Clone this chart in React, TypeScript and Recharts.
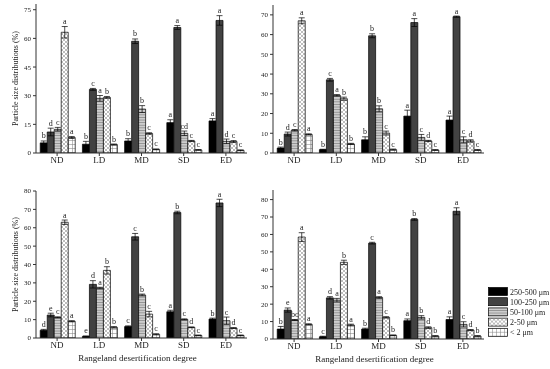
import React from 'react';
import { BarChart, Bar, XAxis, YAxis, ErrorBar, LabelList, Label, Legend } from 'recharts';

const FONT = '"Liberation Serif", "Times New Roman", serif';

const categories = ['ND', 'LD', 'MD', 'SD', 'ED'];
const seriesNames = ['250-500 μm', '100-250 μm', '50-100 μm', '2-50 μm', '< 2 μm'];

// 0-5 cm
const vals05 = [
  [5.3, 4.6, 6.3, 15.9, 16.8],
  [11.0, 33.3, 58.5, 65.7, 69.4],
  [12.4, 28.6, 23.0, 10.3, 6.1],
  [63.2, 29.1, 10.2, 6.3, 6.0],
  [8.1, 4.4, 1.9, 1.6, 1.4],
];
const errs05 = [
  [1.0, 1.5, 1.2, 1.5, 1.2],
  [2.0, 0.5, 1.2, 1.0, 2.5],
  [1.0, 1.5, 1.8, 1.2, 1.2],
  [3.0, 0.5, 0.4, 0.3, 0.5],
  [0.5, 0.3, 0.2, 0.2, 0.2],
];
const lets05 = [
  ['b', 'b', 'b', 'a', 'a'],
  ['d', 'c', 'b', 'a', 'a'],
  ['c', 'a', 'b', 'cd', 'd'],
  ['a', 'b', 'c', 'c', 'c'],
  ['a', 'b', 'c', 'c', 'c'],
];
const ticks05 = [0, 15, 30, 45, 60, 75];

// 5-10 cm
const vals510 = [
  [2.5, 1.7, 6.7, 18.7, 16.7],
  [9.6, 37.1, 59.4, 66.1, 69.1],
  [11.5, 29.2, 22.4, 7.9, 6.7],
  [67.0, 27.5, 10.1, 6.1, 6.1],
  [9.4, 4.6, 1.7, 1.5, 1.5],
];
const errs510 = [
  [0.5, 0.2, 1.5, 3.0, 2.0],
  [1.0, 0.7, 1.0, 2.0, 0.3],
  [0.4, 0.4, 1.5, 1.5, 1.5],
  [1.5, 0.8, 1.0, 0.3, 0.6],
  [0.3, 0.3, 0.3, 0.2, 0.2],
];
const lets510 = [
  ['b', 'b', 'b', 'a', 'a'],
  ['d', 'c', 'b', 'a', 'a'],
  ['c', 'a', 'b', 'c', 'c'],
  ['a', 'b', 'c', 'd', 'd'],
  ['a', 'b', 'c', 'c', 'c'],
];
const ticks510 = [0, 10, 20, 30, 40, 50, 60, 70];

// 10-20 cm
const vals1020 = [
  [4.2, 0.9, 6.2, 14.3, 10.3],
  [12.5, 29.2, 55.1, 68.3, 73.5],
  [11.2, 27.2, 23.4, 10.1, 9.4],
  [63.0, 36.8, 13.0, 5.8, 5.4],
  [9.1, 5.8, 2.0, 1.4, 1.4],
];
const errs1020 = [
  [0.5, 0.2, 0.4, 0.8, 0.5],
  [1.0, 2.0, 1.8, 0.7, 2.0],
  [0.3, 0.4, 0.5, 0.3, 2.0],
  [1.2, 2.0, 1.5, 0.2, 0.2],
  [0.3, 0.4, 0.3, 0.2, 0.2],
];
const lets1020 = [
  ['d', 'e', 'c', 'a', 'b'],
  ['e', 'd', 'c', 'b', 'a'],
  ['c', 'a', 'b', 'c', 'c'],
  ['a', 'b', 'c', 'd', 'd'],
  ['a', 'b', 'c', 'c', 'c'],
];
const ticks1020 = [0, 10, 20, 30, 40, 50, 60, 70, 80];

// 20-30 cm
const vals2030 = [
  [5.7, 1.3, 5.7, 10.5, 11.2],
  [16.6, 23.6, 55.0, 68.6, 73.3],
  [10.9, 22.3, 23.8, 12.4, 8.4],
  [58.5, 44.0, 12.4, 6.5, 5.1],
  [8.4, 8.0, 2.1, 1.7, 1.7],
];
const errs2030 = [
  [1.5, 0.3, 0.5, 1.0, 1.5],
  [1.2, 0.7, 0.5, 0.5, 2.0],
  [0.3, 1.0, 0.5, 1.0, 1.5],
  [2.5, 1.2, 0.4, 0.5, 0.3],
  [0.3, 0.5, 0.2, 0.2, 0.2],
];
const lets2030 = [
  ['b', 'c', 'b', 'a', 'a'],
  ['e', 'd', 'c', 'b', 'a'],
  ['bc', 'a', 'a', 'b', 'c'],
  ['a', 'b', 'c', 'd', 'd'],
  ['a', 'a', 'b', 'b', 'b'],
];
const ticks2030 = [0, 10, 20, 30, 40, 50, 60, 70, 80];

const makeLetter = (letters: string[], errs: number[]) => (p: any) => {
  const vb = p.viewBox || p;
  const idx = p.index ?? 0;
  const value = Number(p.value);
  const h = Math.abs(vb.height);
  const topY = Math.min(vb.y, vb.y + vb.height);
  const ppu = value ? h / value : 0;
  const ey = topY - (errs[idx] || 0) * ppu;
  return (
    <text
      x={vb.x + vb.width / 2}
      y={ey - 2.5}
      textAnchor="middle"
      fontSize={8}
      fontFamily={FONT}
      fill="#222"
      stroke="none"
    >
      {letters[idx]}
    </text>
  );
};

const legendContent = (props: any) => {
  const payload = [...(props.payload || [])].sort(
    (a: any, b: any) => seriesNames.indexOf(a.value) - seriesNames.indexOf(b.value)
  );
  return (
    <svg width={64} height={54} style={{ display: 'block', overflow: 'visible' }}>
      {payload.map((p: any, i: number) => (
        <g key={i} transform={`translate(0, ${i * 10.2})`}>
          <rect x={0.5} y={0.5} width={19} height={8} fill={p.color || (p.payload && p.payload.fill)} stroke="#000" strokeWidth={0.7} />
          <text x={22} y={7.5} fontSize={8} fontFamily={FONT} fill="#222" stroke="none">
            {p.value}
          </text>
        </g>
      ))}
    </svg>
  );
};

type PanelProps = {
  id: string;
  left: number;
  top: number;
  width: number;
  height: number;
  margin: { top: number; right: number; bottom: number; left: number };
  yWidth: number;
  xHeight: number;
  domain: [number, number];
  ticks: number[];
  title: string;
  vals: number[][];
  errs: number[][];
  lets: string[][];
  yTitle?: boolean;
  xTitle?: boolean;
  legend?: boolean;
};

function Panel(props: PanelProps) {
  const { id, left, top, width, height, margin, yWidth, xHeight, domain, ticks, title, vals, errs, lets, yTitle, xTitle, legend } = props;
  const data = categories.map((c, i) => {
    const row: any = { cat: c };
    vals.forEach((s, k) => {
      row['v' + k] = s[i];
      row['e' + k] = errs[k][i];
    });
    return row;
  });
  const fills = ['#000000', '#424242', `url(#${id}-h)`, `url(#${id}-x)`, `url(#${id}-g)`];
  return (
    <div style={{ position: 'absolute', left, top }}>
      <BarChart width={width} height={height} data={data} margin={margin} barCategoryGap="10%" barGap={0}>
        <defs>
          <pattern id={`${id}-h`} width="4" height="2.6" patternUnits="userSpaceOnUse">
            <rect width="4" height="2.6" fill="#cdcdcd" />
            <line x1="0" y1="0.4" x2="4" y2="0.4" stroke="#6a6a6a" strokeWidth="0.6" />
          </pattern>
          <pattern id={`${id}-x`} width="4" height="4" patternUnits="userSpaceOnUse">
            <rect width="4" height="4" fill="#ffffff" />
            <path d="M0,0 L4,4 M4,0 L0,4" stroke="#7a7a7a" strokeWidth="0.5" />
          </pattern>
          <pattern id={`${id}-g`} width="4" height="4" patternUnits="userSpaceOnUse">
            <rect width="4" height="4" fill="#ffffff" />
            <path d="M0,0.5 H4 M0.5,0 V4" stroke="#7a7a7a" strokeWidth="0.5" />
          </pattern>
        </defs>
        <XAxis
          dataKey="cat"
          height={xHeight}
          tickSize={3}
          tickMargin={1}
          interval={0}
          stroke="#333"
          tick={{ fontSize: 9, fill: '#222', fontFamily: FONT }}
        >
          {xTitle ? (
            <Label
              content={(p: any) => {
                const vb = p.viewBox;
                return (
                  <text x={vb.x + vb.width / 2 - 4} y={vb.y + 23} textAnchor="middle" fontSize={9} fontFamily={FONT} fill="#222" stroke="none">
                    Rangeland desertification degree
                  </text>
                );
              }}
            />
          ) : null}
        </XAxis>
        <XAxis xAxisId="top" dataKey="cat" orientation="top" height={0} tick={false} tickLine={false} stroke="#333">
          <Label
            content={(p: any) => {
              const vb = p.viewBox;
              return (
                <text x={vb.x + 46} y={vb.y + 21} fontSize={8.5} fontFamily={FONT} fill="#222" stroke="none">
                  {title}
                </text>
              );
            }}
          />
        </XAxis>
        <YAxis
          domain={domain}
          ticks={ticks}
          width={yWidth}
          tickSize={3}
          tickMargin={2}
          allowDataOverflow
          stroke="#333"
          tick={{ fontSize: 7, fill: '#222', fontFamily: FONT }}
        >
          {yTitle ? (
            <Label
              content={(p: any) => {
                const vb = p.viewBox;
                const cx = 15;
                const cy = vb.y + vb.height / 2;
                return (
                  <text x={cx} y={cy} transform={`rotate(-90 ${cx} ${cy})`} textAnchor="middle" dominantBaseline="central" fontSize={8} fontFamily={FONT} fill="#222" stroke="none">
                    Particle size distributions (%)
                  </text>
                );
              }}
            />
          ) : null}
        </YAxis>
        <YAxis yAxisId="right" orientation="right" width={0} tick={false} tickLine={false} stroke="#333" domain={[0, 1]} />
        {seriesNames.map((n, k) => (
          <Bar key={k} dataKey={'v' + k} name={n} fill={fills[k]} stroke="#000" strokeWidth={0.7} isAnimationActive={false}>
            <ErrorBar dataKey={'e' + k} width={3} stroke="#000" strokeWidth={0.7} />
            <LabelList dataKey={'v' + k} content={makeLetter(lets[k], errs[k])} />
          </Bar>
        ))}
        {legend ? (
          <Legend
            layout="vertical"
            align="center"
            verticalAlign="middle"
            content={legendContent}
            wrapperStyle={{ left: 238, top: 102, width: 64, height: 54 }}
          />
        ) : null}
      </BarChart>
    </div>
  );
}

export default function App() {
  return (
    <div style={{ position: 'absolute', left: 0, top: 0, width: 550, height: 369, background: '#fff', overflow: 'hidden', filter: 'grayscale(1)' }}>
      <Panel
        id="p05" left={0} top={0} width={270} height={185}
        margin={{ top: 4, right: 23, bottom: 0, left: 0 }}
        yWidth={36} xHeight={32} domain={[0, 78]} ticks={ticks05}
        title="0-5 cm" vals={vals05} errs={errs05} lets={lets05} yTitle
      />
      <Panel
        id="p510" left={250} top={0} width={300} height={185}
        margin={{ top: 5, right: 66, bottom: 0, left: 0 }}
        yWidth={23} xHeight={32} domain={[0, 75]} ticks={ticks510}
        title="5-10 cm" vals={vals510} errs={errs510} lets={lets510}
      />
      <Panel
        id="p1020" left={0} top={185} width={270} height={184}
        margin={{ top: 6, right: 23, bottom: 0, left: 0 }}
        yWidth={36} xHeight={31} domain={[0, 80]} ticks={ticks1020}
        title="10-20 cm" vals={vals1020} errs={errs1020} lets={lets1020} yTitle xTitle
      />
      <Panel
        id="p2030" left={250} top={185} width={300} height={184}
        margin={{ top: 5, right: 66, bottom: 0, left: 0 }}
        yWidth={23} xHeight={30} domain={[0, 85.5]} ticks={ticks2030}
        title="20-30 cm" vals={vals2030} errs={errs2030} lets={lets2030} xTitle legend
      />
    </div>
  );
}
